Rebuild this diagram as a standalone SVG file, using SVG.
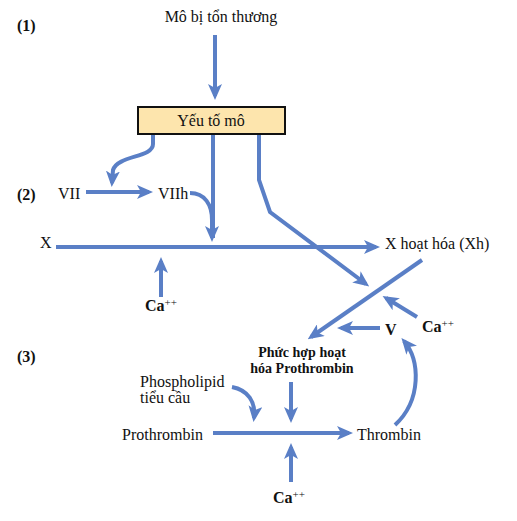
<svg xmlns="http://www.w3.org/2000/svg" width="517" height="521" viewBox="0 0 517 521">
<style>
.t{font-family:"Liberation Serif","Times New Roman",serif;font-size:16px;fill:#111}
.b{font-family:"Liberation Serif","Times New Roman",serif;font-size:16px;font-weight:bold;fill:#111}
.c{fill:none;stroke:#5a7fc6;stroke-width:4;marker-end:url(#ah)}
.n{fill:none;stroke:#5a7fc6;stroke-width:4}
</style>
<defs>
<marker id="ah" markerUnits="userSpaceOnUse" viewBox="0 0 16 14" markerWidth="16" markerHeight="14" refX="12" refY="7" orient="auto">
<path d="M0,0 L16,7 L0,14 L4,7 Z" fill="#5a7fc6"/>
</marker>
</defs>
<rect width="517" height="521" fill="#fff"/>
<g id="connectors">
<path class="c" d="M215,35 V96"/>
<path class="c" d="M153,134 V144 C153,158 118,155 113,170 L112,183"/>
<path class="c" d="M86,192 H149"/>
<path class="c" d="M190,193 C205,193 212,205 212,220 V238"/>
<path class="n" d="M213,134 V238"/>
<path class="c" d="M56,247 H376"/>
<path class="c" d="M259,134 V180 L270,212 L366,284"/>
<path class="c" d="M422,260 L311,337"/>
<path class="c" d="M417,317 L386,298"/>
<path class="c" d="M380,328 H341"/>
<path class="c" d="M395,425 C422,400 420,360 404,341"/>
<path class="c" d="M161,297 V261"/>
<path class="c" d="M291,382 V419"/>
<path class="c" d="M213,433 H349"/>
<path class="c" d="M291,482 V447"/>
<path class="c" d="M232,387 C248,390 256,402 254,418"/>
</g>
<g id="labels">
<text class="b" x="17" y="31">(1)</text>
<text class="b" x="17" y="200">(2)</text>
<text class="b" x="17" y="362">(3)</text>
</g>
<g id="n-injury"><text class="t" x="221" y="22" text-anchor="middle">Mô bị tổn thương</text></g>
<g id="n-tissue-factor">
<rect x="138" y="107" width="147" height="27" fill="#fde5ad" stroke="#111" stroke-width="2"/>
<text class="t" x="211" y="126" text-anchor="middle">Yếu tố mô</text>
</g>
<g id="n-vii"><text class="t" x="58" y="199">VII</text></g>
<g id="n-viih"><text class="t" x="158" y="199">VIIh</text></g>
<g id="n-x"><text class="t" x="40" y="248">X</text></g>
<g id="n-xh"><text class="t" x="385" y="249">X hoạt hóa (Xh)</text></g>
<g id="n-ca1"><text class="b" x="145" y="311">Ca<tspan font-size="11" font-weight="normal" dy="-5">++</tspan></text></g>
<g id="n-ca2"><text class="b" x="422" y="332">Ca<tspan font-size="11" font-weight="normal" dy="-5">++</tspan></text></g>
<g id="n-v"><text class="b" x="385" y="335">V</text></g>
<g id="n-complex">
<text class="b" x="302" y="357" text-anchor="middle" style="font-size:14px">Phức hợp hoạt</text>
<text class="b" x="302" y="373" text-anchor="middle" style="font-size:14px">hóa Prothrombin</text>
</g>
<g id="n-phospholipid">
<text class="t" x="140" y="387">Phospholipid</text>
<text class="t" x="140" y="403">tiểu cầu</text>
</g>
<g id="n-prothrombin"><text class="t" x="122" y="440">Prothrombin</text></g>
<g id="n-thrombin"><text class="t" x="357" y="440">Thrombin</text></g>
<g id="n-ca3"><text class="b" x="273" y="503">Ca<tspan font-size="11" font-weight="normal" dy="-5">++</tspan></text></g>
</svg>
